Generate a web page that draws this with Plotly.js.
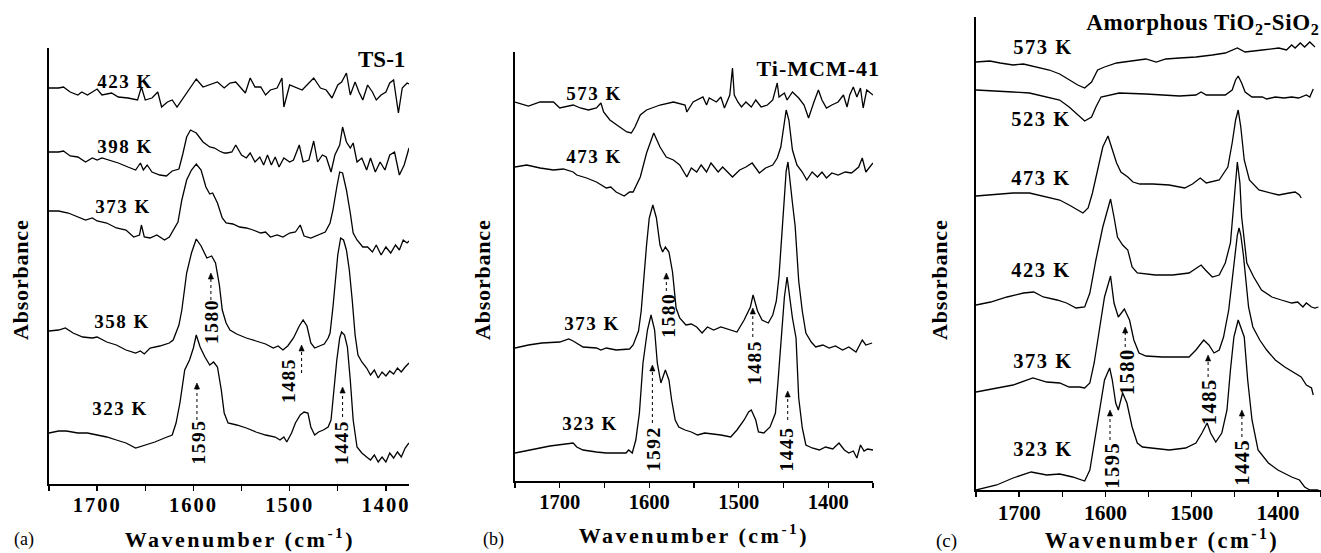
<!DOCTYPE html>
<html><head><meta charset="utf-8">
<script src="https://cdn.plot.ly/plotly-3.0.1.min.js"></script>
<style>
html,body{margin:0;padding:0;background:#fff;}
#chart{width:1321px;height:553px;}
#chart .xtick text{letter-spacing:2px;}
</style>
</head><body><div id="chart"></div>
<script>
// ---------------- DATA (absorbance, arbitrary units, stacked offsets as read) ----------------
// (a) TS-1
const ts1_423_wn  = [1750,1740,1735,1728,1720,1716,1710,1700,1695,1685,1678,1668,1658,1654,1650,1643,1637,1633,1627,1622,1617,1607,1597,1590,1582,1575,1568,1562,1556,1550,1546,1541,1536,1530,1525,1520,1513,1508,1506,1500,1494,1487,1482,1475,1468,1462,1456,1450,1446,1441,1437,1432,1428,1424,1419,1414,1410,1405,1400,1396,1392,1387,1383,1378,1376];
const ts1_423_abs = [396,396,397,392,389,392,389,395,389,391,387,386,384,397,384,386,392,377,382,384,377,391,405,397,400,402,396,401,402,396,391,406,397,397,389,394,396,406,377,399,397,394,399,406,396,394,386,399,402,411,389,402,392,384,399,392,384,389,392,401,404,371,396,401,400];
const ts1_398_wn  = [1750,1740,1735,1728,1720,1712,1705,1700,1695,1688,1678,1668,1660,1655,1652,1648,1643,1635,1628,1622,1615,1611,1607,1603,1597,1590,1583,1578,1573,1568,1565,1560,1556,1550,1545,1541,1536,1531,1527,1523,1519,1515,1511,1506,1500,1496,1490,1486,1480,1475,1471,1466,1462,1457,1453,1448,1445,1441,1437,1434,1430,1425,1420,1416,1411,1406,1401,1396,1391,1386,1381,1376];
const ts1_398_abs = [332,332,333,328,327,322,326,324,326,324,321,317,314,321,314,319,312,309,308,313,315,330,347,354,351,342,337,336,333,331,331,332,339,329,326,331,322,327,319,329,319,327,317,326,322,324,339,322,324,343,322,329,327,312,329,339,357,342,336,341,322,326,314,326,312,322,314,329,332,309,319,336];
const ts1_373_wn  = [1750,1740,1730,1720,1712,1705,1700,1690,1680,1670,1662,1656,1654,1651,1645,1638,1630,1625,1621,1616,1612,1607,1602,1597,1592,1587,1583,1580,1575,1570,1566,1559,1552,1545,1538,1530,1525,1520,1513,1507,1500,1494,1489,1485,1478,1470,1463,1458,1455,1451,1448,1445,1441,1437,1434,1430,1424,1419,1414,1410,1405,1400,1395,1390,1386,1382,1378,1376];
const ts1_373_abs = [273,273,271,267,264,266,263,261,256,254,247,249,259,247,246,249,244,247,254,262,284,304,314,320,314,297,290,291,281,266,261,260,257,256,254,251,252,247,249,247,251,252,259,248,246,249,252,261,274,297,312,311,294,271,251,244,237,237,232,239,229,237,231,239,234,244,241,243];
const ts1_358_wn  = [1750,1740,1733,1725,1715,1705,1700,1690,1680,1670,1660,1655,1651,1645,1635,1625,1621,1615,1612,1607,1602,1597,1592,1586,1581,1577,1573,1570,1566,1562,1555,1545,1535,1525,1517,1512,1507,1502,1496,1490,1486,1482,1478,1474,1469,1464,1460,1458,1455,1452,1450,1447,1444,1441,1438,1435,1432,1429,1425,1420,1416,1412,1408,1404,1400,1396,1392,1388,1384,1380,1376];
const ts1_358_abs = [153,154,156,151,147,146,147,142,139,134,131,133,130,136,138,141,144,159,174,211,231,245,238,226,228,221,199,174,161,154,150,146,143,140,136,138,134,138,146,158,164,158,141,136,138,140,146,151,177,204,229,246,244,234,214,184,149,129,122,116,109,114,106,112,108,113,110,116,112,117,121];
const ts1_323_wn  = [1750,1740,1732,1720,1710,1700,1690,1680,1670,1660,1650,1640,1630,1622,1618,1614,1609,1604,1600,1597,1593,1588,1583,1579,1575,1571,1568,1564,1555,1545,1535,1525,1515,1510,1506,1503,1498,1494,1489,1485,1481,1478,1474,1470,1465,1460,1457,1454,1451,1448,1446,1443,1440,1437,1434,1430,1425,1420,1416,1412,1408,1404,1400,1396,1392,1388,1384,1380,1376];
const ts1_323_abs = [51,53,53,51,51,49,47,44,41,36,39,42,46,49,61,81,114,124,136,149,137,127,119,122,117,94,71,61,59,56,52,49,47,44,47,42,51,61,69,72,71,57,49,52,54,57,64,94,124,146,152,149,137,104,64,37,31,27,24,29,22,27,22,31,26,32,27,36,41];

// (b) Ti-MCM-41
const mcm_573_wn  = [1750,1735,1722,1707,1700,1685,1677,1668,1659,1654,1651,1644,1633,1625,1620,1616,1610,1603,1588,1573,1560,1558,1551,1540,1536,1533,1525,1520,1516,1510,1507,1505,1501,1497,1492,1486,1481,1475,1468,1462,1457,1455,1449,1446,1440,1433,1427,1422,1416,1411,1407,1402,1396,1389,1383,1379,1376,1372,1368,1364,1361,1357,1350];
const mcm_573_abs = [379,375,379,379,373,376,373,371,373,378,369,361,354,349,348,354,366,371,376,379,376,369,379,384,376,383,379,384,373,386,413,386,379,374,379,374,381,374,376,381,398,384,388,381,389,383,376,363,379,391,381,373,376,379,386,374,386,394,384,393,373,391,386];
const mcm_473_wn  = [1750,1737,1722,1707,1696,1685,1681,1670,1659,1648,1643,1637,1628,1622,1618,1610,1603,1595,1588,1581,1573,1566,1558,1553,1547,1542,1536,1531,1523,1518,1507,1499,1492,1485,1477,1470,1462,1457,1453,1449,1447,1444,1440,1435,1429,1424,1418,1412,1407,1402,1396,1389,1381,1374,1366,1362,1358,1350];
const mcm_473_abs = [314,316,313,311,312,309,306,303,299,293,294,289,285,289,289,304,328,348,334,324,321,316,304,313,309,316,309,318,309,314,304,311,314,318,308,313,316,323,334,361,371,361,331,316,309,301,309,304,309,303,308,306,309,308,314,323,309,318];
const mcm_373_wn  = [1750,1735,1720,1700,1690,1685,1674,1659,1654,1648,1637,1622,1618,1612,1609,1606,1603,1600,1596,1592,1588,1585,1582,1578,1574,1570,1566,1559,1553,1547,1541,1535,1528,1520,1509,1502,1494,1487,1484,1479,1474,1467,1462,1458,1455,1451,1447,1445,1443,1440,1437,1433,1429,1425,1419,1414,1406,1399,1392,1384,1377,1369,1362,1358,1351];
const mcm_373_abs = [133,136,138,139,142,140,134,133,131,133,131,132,136,150,170,205,236,263,276,263,236,229,234,229,209,173,163,156,157,154,148,154,151,154,151,149,161,174,186,170,161,158,166,180,205,262,310,319,300,278,255,200,170,148,139,134,136,133,135,131,134,129,141,136,138];
const mcm_323_wn  = [1750,1735,1722,1711,1700,1685,1681,1674,1659,1648,1637,1626,1623,1619,1615,1611,1607,1602,1598,1594,1591,1587,1582,1578,1575,1571,1567,1560,1553,1546,1538,1527,1520,1509,1502,1494,1489,1486,1481,1478,1472,1465,1459,1456,1452,1449,1446,1443,1440,1436,1433,1429,1425,1418,1410,1403,1395,1388,1382,1377,1372,1368,1364,1360,1356,1350];
const mcm_323_abs = [28,31,33,35,36,38,34,31,29,28,28,28,31,28,41,68,118,151,166,151,118,98,111,101,81,61,54,51,49,46,48,47,46,44,51,61,69,71,61,49,48,54,68,101,151,184,204,183,163,143,83,53,36,33,31,34,32,38,31,28,30,23,36,30,32,31];

// (c) Amorphous TiO2-SiO2
const amo_573_wn  = [1750,1734,1722,1707,1695,1680,1665,1653,1642,1632,1624,1616,1609,1601,1587,1568,1553,1541,1530,1514,1495,1476,1461,1447,1438,1418,1399,1390,1384,1380,1374,1369,1363,1357];
const amo_573_abs = [428,429,427,425,426,423,420,416,410,405,402,408,420,423,427,429,431,428,431,432,433,435,437,442,438,440,442,440,445,442,447,443,448,443];
const amo_523_wn  = [1750,1734,1707,1688,1669,1653,1642,1632,1624,1616,1611,1605,1595,1584,1553,1514,1495,1489,1483,1461,1453,1449,1446,1442,1438,1430,1418,1413,1403,1393,1384,1376,1367,1363,1359];
const amo_523_abs = [400,399,398,397,393,390,383,375,369,373,383,393,395,397,396,394,395,398,395,395,400,410,414,407,398,393,393,391,393,392,393,392,395,393,401];
const amo_473_wn  = [1750,1734,1707,1688,1669,1653,1642,1632,1626,1620,1615,1609,1603,1597,1593,1587,1582,1574,1568,1560,1545,1526,1508,1499,1490,1483,1468,1458,1453,1449,1446,1443,1439,1433,1422,1410,1399,1387,1380,1375,1373];
const amo_473_abs = [294,295,297,297,293,290,285,280,277,282,297,320,343,354,343,327,318,313,308,306,306,305,302,306,312,307,310,323,347,370,380,363,330,310,300,297,295,297,298,295,292];
const amo_423_wn  = [1750,1733,1714,1695,1683,1672,1656,1645,1634,1624,1618,1611,1603,1597,1594,1590,1586,1580,1574,1569,1563,1542,1522,1503,1495,1489,1484,1476,1468,1461,1455,1450,1447,1444,1442,1436,1428,1419,1407,1396,1384,1377,1371,1367,1361,1357,1353];
const amo_423_abs = [185,188,193,197,198,193,190,187,182,183,197,230,263,280,291,273,253,245,240,223,217,215,215,217,222,225,220,213,215,227,247,297,328,307,273,227,213,200,193,190,187,188,183,187,183,182,183];
const amo_373_wn  = [1750,1726,1707,1684,1668,1653,1642,1630,1624,1618,1613,1607,1601,1594,1590,1585,1578,1572,1567,1561,1553,1534,1515,1503,1495,1486,1480,1474,1468,1463,1457,1453,1450,1447,1445,1443,1440,1437,1434,1429,1421,1413,1403,1392,1380,1373,1367,1361,1359];
const amo_373_abs = [98,102,105,112,108,107,103,103,102,107,127,160,193,214,187,173,181,170,150,137,134,133,133,133,140,150,145,137,140,153,180,210,235,255,262,255,235,208,183,163,150,140,130,123,117,113,105,102,95];
const amo_323_wn  = [1750,1726,1707,1686,1668,1653,1638,1624,1618,1613,1607,1601,1595,1592,1588,1585,1580,1575,1569,1563,1557,1545,1526,1507,1495,1488,1482,1478,1472,1465,1459,1455,1451,1446,1442,1439,1435,1430,1423,1411,1400,1384,1375,1369,1363,1353];
const amo_323_abs = [0,5,12,18,15,16,13,9,20,47,77,110,122,110,87,80,97,87,63,47,43,42,40,42,47,57,67,57,48,57,80,120,153,170,160,153,110,70,40,27,20,13,10,3,0,0];

// Text
const tempLabelsA = ['423 K','398 K','373 K','358 K','323 K'];
const tempLabelsB = ['573 K','473 K','373 K','323 K'];
const tempLabelsC = ['573 K','523 K','473 K','423 K','373 K','323 K'];
const peakLabelsA = ['1595','1580','1485','1445'];
const peakLabelsB = ['1592','1580','1485','1445'];
const peakLabelsC = ['1595','1580','1485','1445'];
const tickVals = [1700,1600,1500,1400];

// ---------------- LAYOUT ----------------
const W = 1321, H = 553;
const fx = p => p / W, fy = p => 1 - p / H;
const SERIF = 'Liberation Serif, Times New Roman, serif';
const BLACK = '#000';

const panels = [
  {xa:'x',  ya:'y',  xPix:[49,409],  yPix:[48,484], xr:[1750,1376], yr:[0,436], tick:20.5,
   series:[[ts1_423_wn,ts1_423_abs],[ts1_398_wn,ts1_398_abs],[ts1_373_wn,ts1_373_abs],[ts1_358_wn,ts1_358_abs],[ts1_323_wn,ts1_323_abs]]},
  {xa:'x2', ya:'y2', xPix:[515,873], yPix:[52,481], xr:[1750,1350], yr:[0,429], tick:20.5,
   series:[[mcm_573_wn,mcm_573_abs],[mcm_473_wn,mcm_473_abs],[mcm_373_wn,mcm_373_abs],[mcm_323_wn,mcm_323_abs]]},
  {xa:'x3', ya:'y3', xPix:[976,1321], yPix:[17,490], xr:[1750,1350], yr:[0,473], tick:21.5,
   series:[[amo_573_wn,amo_573_abs],[amo_523_wn,amo_523_abs],[amo_473_wn,amo_473_abs],[amo_423_wn,amo_423_abs],[amo_373_wn,amo_373_abs],[amo_323_wn,amo_323_abs]]}
];
// pixels per cm^-1 of each panel (for arrowhead size)
panels.forEach(p => { p.sx = (p.xPix[1]-p.xPix[0]) / (p.xr[0]-p.xr[1]); });

const data = [];
const layout = {
  width: W, height: H, margin:{l:0,r:0,t:0,b:0},
  paper_bgcolor:'#fff', plot_bgcolor:'rgba(0,0,0,0)', showlegend:false,
  font:{family:SERIF, color:BLACK},
  annotations:[], shapes:[]
};

panels.forEach((p, i) => {
  const n = i === 0 ? '' : String(i + 1);
  p.series.forEach(([wn, ab]) => data.push({
    type:'scatter', mode:'lines', x:wn, y:ab, xaxis:p.xa, yaxis:p.ya,
    line:{color:BLACK, width:1.3}, hoverinfo:'skip', showlegend:false
  }));
  layout['xaxis' + n] = {
    domain:[fx(p.xPix[0]), fx(p.xPix[1])], anchor:p.ya, range:p.xr,
    showline:true, linecolor:BLACK, linewidth:1.8, showgrid:false, zeroline:false,
    ticks:'outside', ticklen:5, tickwidth:1.3, tickcolor:BLACK,
    tickmode:'array', tickvals:tickVals, ticktext:tickVals.map(String),
    ticklabelstandoff:-3,
    tickfont:{family:SERIF, size:p.tick, color:BLACK, weight:'bold'},
    minor:{dtick:50, tick0:0, ticks:'outside', ticklen:5, tickwidth:1.3, tickcolor:BLACK, showgrid:false},
    fixedrange:true
  };
  layout['yaxis' + n] = {
    domain:[fy(p.yPix[1]), fy(p.yPix[0])], anchor:p.xa, range:p.yr,
    showline:true, linecolor:BLACK, linewidth:1.8, showgrid:false, zeroline:false,
    ticks:'', showticklabels:false, fixedrange:true
  };
});

function txt(text, x, y, size, opts) {
  layout.annotations.push(Object.assign({
    text, x, y, xref:'paper', yref:'paper', showarrow:false,
    xanchor:'center', yanchor:'middle',
    font:{family:SERIF, size, color:BLACK, weight:'bold'}
  }, opts || {}));
}

// Temperature labels (pixel centers from reference)
const tA = [[125,81],[125,146.5],[123,206.5],[122,321.5],[120,408.5]];
const tB = [[593.5,93.5],[593.5,156.5],[591.5,323.5],[590,423.5]];
const tC = [[1042.5,46.5],[1041,118.5],[1041,178.5],[1041,270],[1043,360.5],[1043,448.5]];
tempLabelsA.forEach((t,k)=>txt(t, fx(tA[k][0]), fy(tA[k][1]), 19));
tempLabelsB.forEach((t,k)=>txt(t, fx(tB[k][0]), fy(tB[k][1]), 19));
tempLabelsC.forEach((t,k)=>txt(t, fx(tC[k][0]), fy(tC[k][1]), 20.5));

// Sample names
txt('TS-1', fx(407), fy(59.5), 23, {xanchor:'right'});
txt('Ti-MCM-41', fx(877), fy(68.5), 22, {xanchor:'right'});
txt('Amorphous TiO<sub>2</sub>-SiO<sub>2</sub>', fx(1316), fy(24), 23, {xanchor:'right'});

// Axis titles
[[20,280],[482,280],[939,280]].forEach(([x,y])=>txt('Absorbance', fx(x), fy(y), 22, {textangle:-90}));
txt('Wavenumber (cm<sup>-1</sup>)', fx(240), fy(537.5), 22);
txt('Wavenumber (cm<sup>-1</sup>)', fx(694), fy(534), 22);
txt('Wavenumber (cm<sup>-1</sup>)', fx(1161.5), fy(538.5), 22.5);
txt('(a)', fx(24), fy(539.5), 18, {font:{family:SERIF,size:18,color:BLACK}});
txt('(b)', fx(493.5), fy(539.5), 18, {font:{family:SERIF,size:18,color:BLACK}});
txt('(c)', fx(946.5), fy(541), 19, {font:{family:SERIF,size:19,color:BLACK}});

// Peak labels with dashed arrows (data coordinates of each panel): [labelX, labelY, arrowX, dashStart, tip]
const peakGeom = [
  [ [1594.8,42,1596.3,64,101], [1581.3,162.5,1581.8,184,211], [1501.3,103.5,1487.6,111,139], [1446,41.5,1445,67,97] ],
  [ [1595.0,32.5,1596.5,58,116], [1579.4,166,1580.9,190,208], [1482.4,118.5,1484.3,144,173], [1446.2,32.5,1445.3,61,90] ],
  [ [1592.6,25,1594.6,50,80], [1575.3,118.5,1577,143,163], [1480.1,88.5,1480.9,113,135], [1442.6,27.5,1441.7,53,80] ]
];
const peakTexts = [peakLabelsA, peakLabelsB, peakLabelsC];
panels.forEach((p,i)=>{
  const dx = 2.6 / p.sx;   // half arrowhead width, 2.6 px
  const hh = 6;            // arrowhead height, 6 px (1 y-unit = 1 px)
  peakGeom[i].forEach((g,k)=>{
    const [lx,ly,ax,y0,tip] = g;
    layout.annotations.push({
      text:peakTexts[i][k], x:lx, y:ly, xref:p.xa, yref:p.ya, showarrow:false, textangle:-90,
      xanchor:'center', yanchor:'middle',
      font:{family:SERIF, size:i===2?20.5:19.5, color:BLACK, weight:'bold'}
    });
    layout.shapes.push({type:'line', xref:p.xa, yref:p.ya, x0:ax, x1:ax, y0:y0, y1:tip-hh,
      line:{color:BLACK, width:1, dash:'3px,3px'}});
    layout.shapes.push({type:'path', xref:p.xa, yref:p.ya,
      path:`M ${ax-dx},${tip-hh} L ${ax},${tip} L ${ax+dx},${tip-hh} Z`,
      fillcolor:BLACK, line:{color:BLACK, width:0.6}});
  });
});

Plotly.newPlot('chart', data, layout, {staticPlot:true, displayModeBar:false}).then(()=>{
  // drop Plotly's empty placeholder title texts
  document.querySelectorAll('#chart text').forEach(t=>{ if(!(t.textContent||'').trim()) t.remove(); });
  document.querySelectorAll('.xtick text').forEach(t=>{ t.style.letterSpacing='2px'; });
  document.querySelectorAll('.annotation-text').forEach(t=>{
    const s = t.textContent || '';
    if (s.startsWith('Wavenumber')) t.style.letterSpacing='2.5px';
    else if (/K$/.test(s)) t.style.letterSpacing='1.5px';
    else if (/^\d{4}$/.test(s)) t.style.letterSpacing='1.5px';
    else if (s.startsWith('Ti-MCM')) t.style.letterSpacing='1px';
    else if (s.startsWith('Amorphous')) t.style.letterSpacing='0.6px';
    else if (s.startsWith('Absorbance')) t.style.letterSpacing='0.8px';
  });
});
</script></body></html>
